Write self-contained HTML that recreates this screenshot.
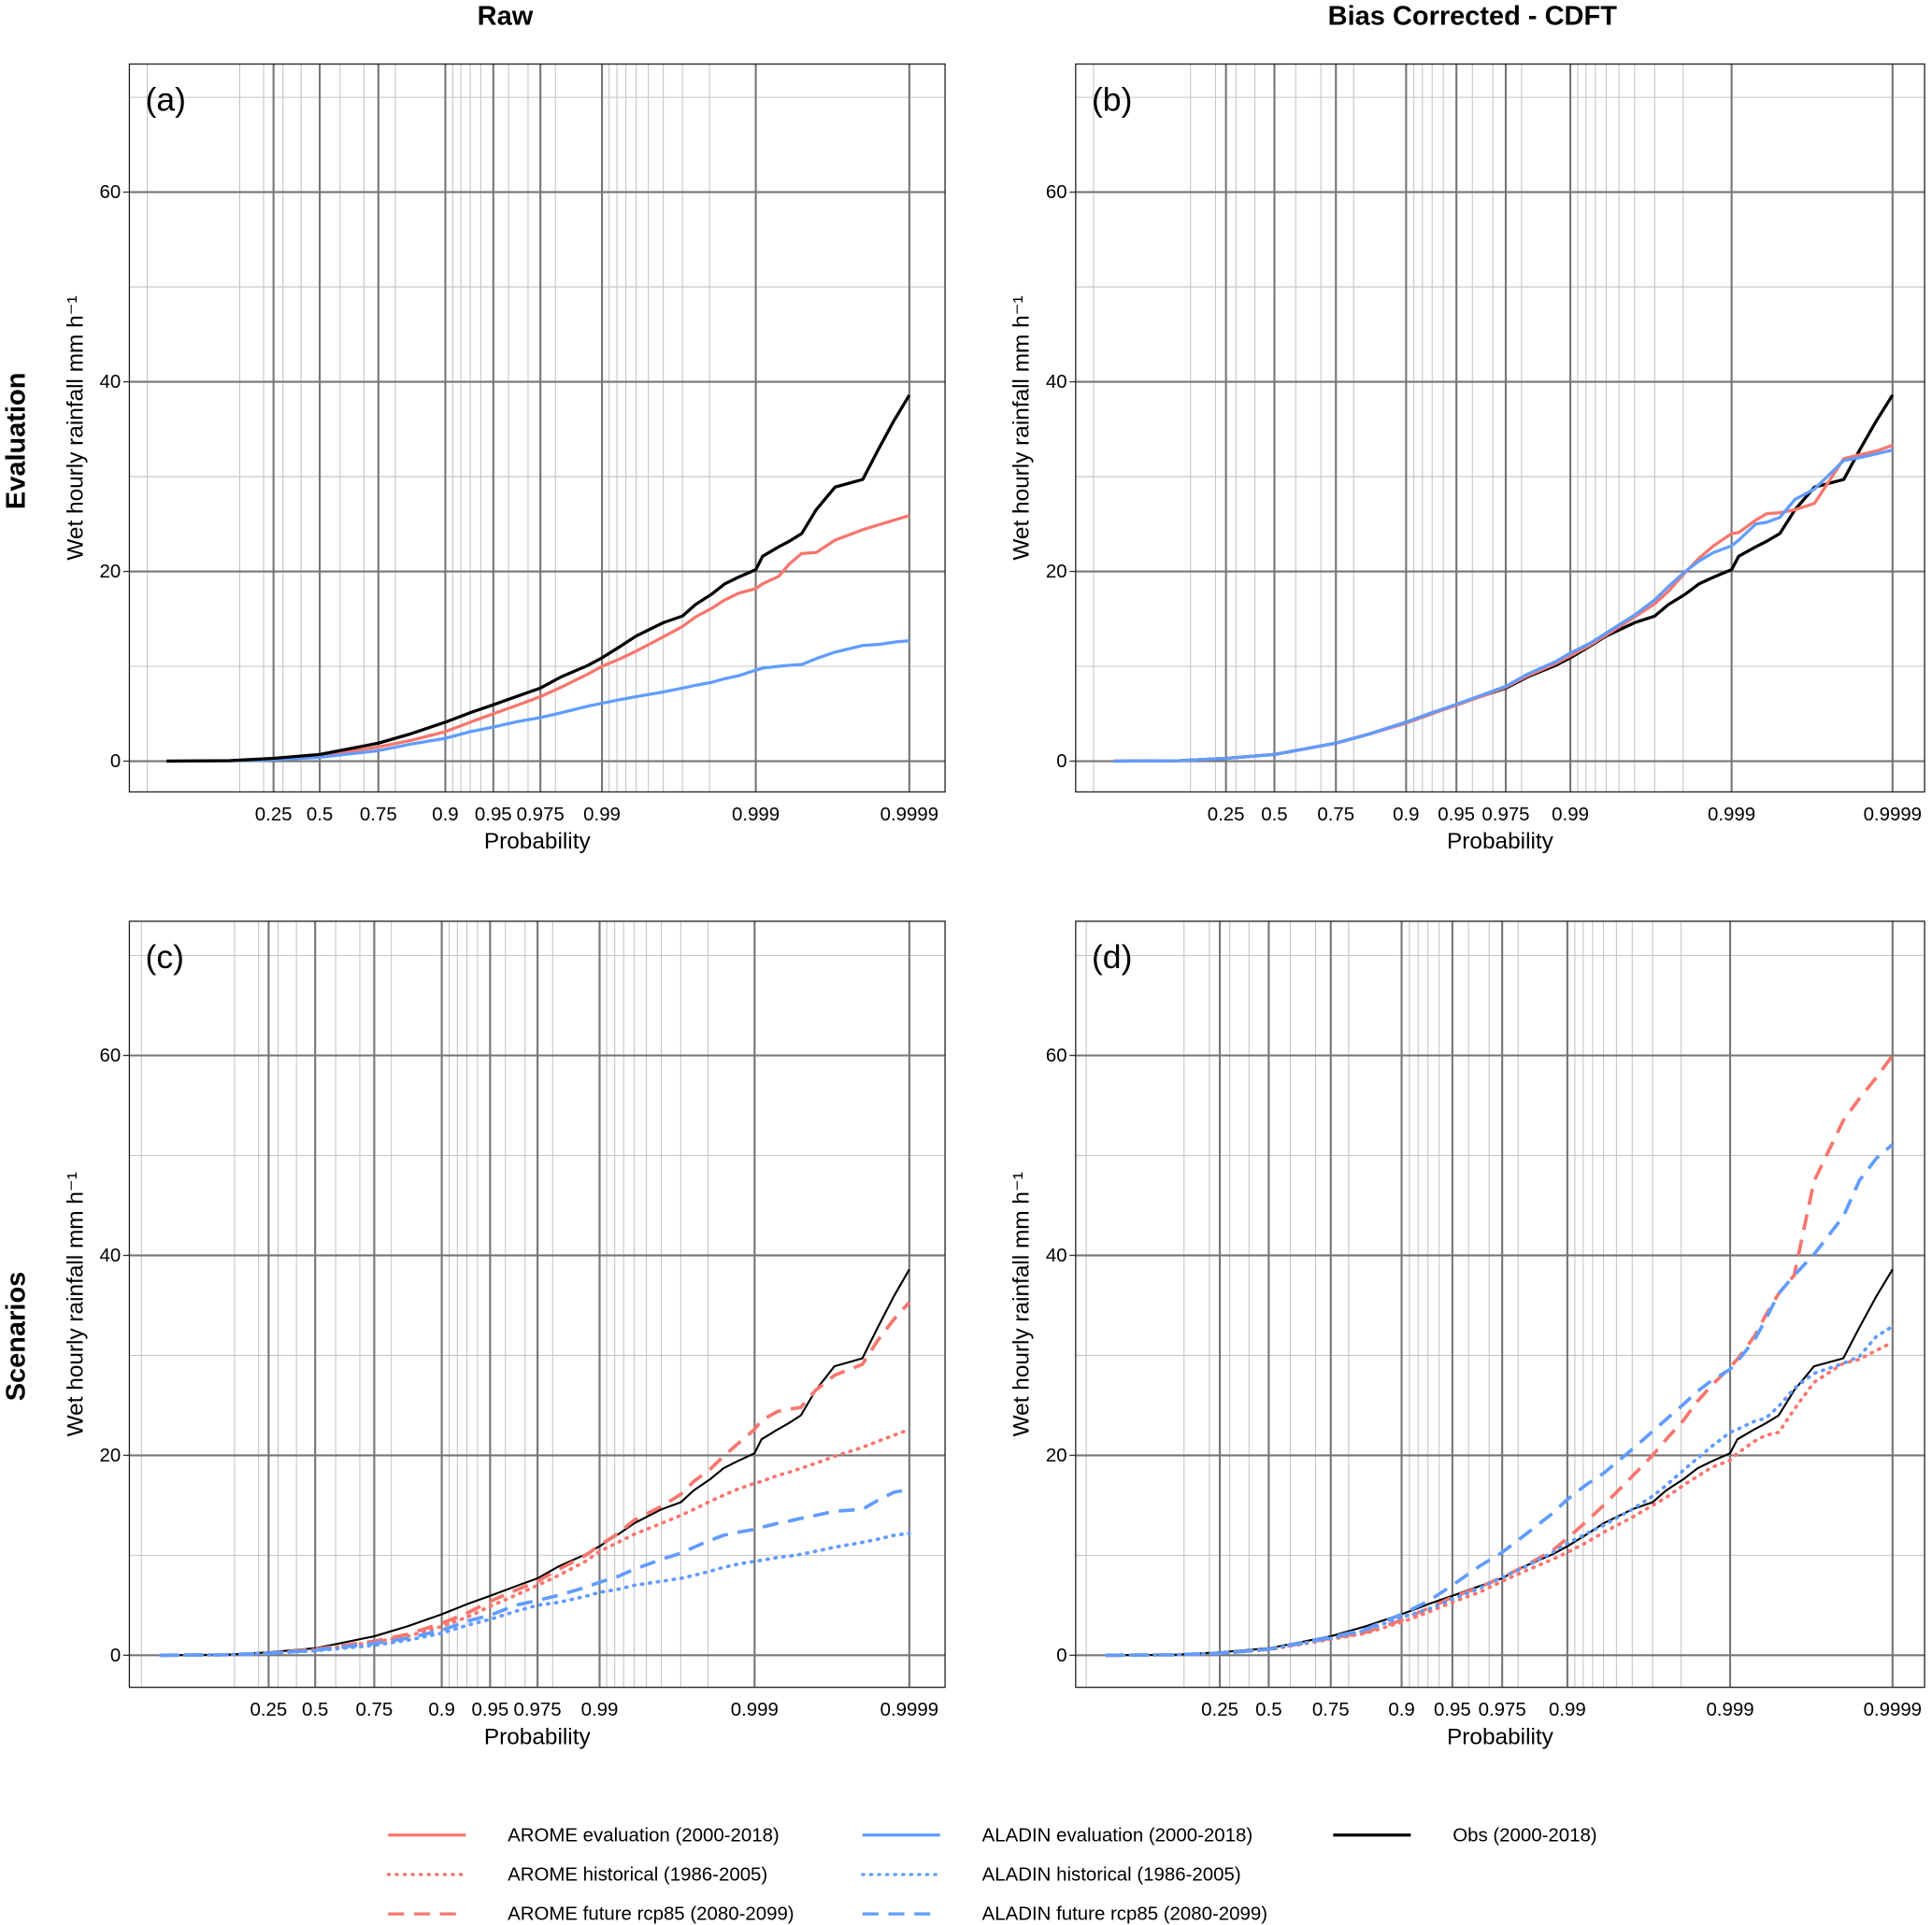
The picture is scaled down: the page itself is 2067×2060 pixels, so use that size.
<!DOCTYPE html>
<html><head><meta charset="utf-8"><style>html,body{margin:0;padding:0;background:#fff}svg{display:block}text{font-family:"Liberation Sans",Arial,sans-serif}</style></head>
<body>
<svg id="fig" width="2067" height="2060" viewBox="0 0 1568 1563" preserveAspectRatio="none" xmlns="http://www.w3.org/2000/svg">
<text x="410" y="20" font-size="22" font-weight="bold" text-anchor="middle">Raw</text>
<text x="1195" y="20" font-size="22" font-weight="bold" text-anchor="middle">Bias Corrected - CDFT</text>
<text transform="translate(20,358) rotate(-90)" font-size="22" font-weight="bold" text-anchor="middle">Evaluation</text>
<text transform="translate(20,1085) rotate(-90)" font-size="22" font-weight="bold" text-anchor="middle">Scenarios</text>
<g id="panels"></g>
<g id="legend"></g>
</svg>
<script>
const probs = [0.001,0.07,0.25,0.5,0.75,0.839,0.9,0.93,0.95,0.9655,0.975,0.9817,0.9877,0.99,0.9924,0.994,0.996,0.997,0.99753,0.99806,0.99841,0.998705,0.999,0.999097,0.999291,0.999396,0.999498,0.999596,0.999695,0.999799,0.99984,0.999874,0.9999];
const obsVals = [0,0.05,0.3,0.7,1.9,2.9,4.1,5.1,5.95,6.9,7.7,8.9,10.1,10.9,12.1,13.2,14.6,15.3,16.5,17.6,18.7,19.4,20.2,21.6,22.6,23.2,24.0,26.5,28.9,29.7,32.8,35.9,38.6];
const aromeEvalRaw = [0,0.05,0.2,0.55,1.5,2.2,3.1,4.1,5.0,5.95,6.8,7.8,9.2,10.0,10.8,11.6,13.1,14.2,15.2,16.1,17.0,17.7,18.2,18.7,19.5,20.8,21.9,22.0,23.3,24.4,24.9,25.4,25.9];
const aladinEvalRaw = [0,0.05,0.15,0.4,1.1,1.8,2.4,3.1,3.6,4.2,4.6,5.1,5.8,6.1,6.5,6.8,7.3,7.7,8.0,8.3,8.7,9.0,9.6,9.8,10.0,10.1,10.2,10.8,11.5,12.2,12.3,12.55,12.7];
const aromeEvalBC = [0,0.05,0.3,0.7,1.9,2.9,4.0,5.0,5.9,6.9,7.8,9.0,10.3,11.1,12.2,13.3,15.2,16.6,17.9,19.9,21.4,22.7,24.0,24.1,25.4,26.1,26.2,26.5,27.2,31.9,32.3,32.7,33.3];
const aladinEvalBC = [0,0.05,0.3,0.7,1.9,2.9,4.1,5.1,6.0,7.0,7.9,9.2,10.5,11.4,12.4,13.5,15.4,17.0,18.4,20.0,21.1,22.0,22.7,23.3,25.0,25.2,25.7,27.6,28.7,31.7,32.0,32.4,32.8];
const aromeFutRaw = [0,0.05,0.2,0.6,1.4,2.1,3.2,4.2,5.4,6.5,7.4,8.6,10.0,11.0,12.2,13.5,14.9,16.1,17.4,18.6,19.9,21.1,22.6,23.5,24.4,24.6,24.8,26.5,28.0,29.1,31.5,33.6,35.3];
const aromeHistRaw = [0,0.05,0.2,0.55,1.3,1.9,2.9,3.8,4.9,6.0,7.0,8.0,9.4,10.4,11.3,12.1,13.2,14.0,14.6,15.4,16.0,16.6,17.2,17.4,18.0,18.3,18.7,19.2,19.9,20.8,21.4,22.0,22.6];
const aladinFutRaw = [0,0.05,0.2,0.5,1.2,1.7,2.5,3.4,4.0,5.0,5.5,6.0,6.8,7.3,7.9,8.6,9.6,10.2,10.8,11.5,12.0,12.3,12.6,12.8,13.2,13.4,13.7,14.0,14.4,14.6,15.5,16.3,16.6];
const aladinHistRaw = [0,0.05,0.2,0.45,1.0,1.5,2.2,3.0,3.6,4.4,5.0,5.3,5.9,6.3,6.6,7.0,7.4,7.7,8.0,8.4,8.8,9.1,9.4,9.5,9.8,9.9,10.1,10.4,10.8,11.3,11.6,12.0,12.2];
const aromeFutBC = [0,0.05,0.2,0.6,1.7,2.3,3.5,4.7,5.8,6.8,7.8,8.9,10.5,11.7,13.4,15.0,17.9,20.0,21.6,23.5,25.4,27.0,28.8,29.6,31.9,34.0,36.2,38.0,47.4,53.5,55.7,57.8,60.0];
const aladinFutBC = [0,0.05,0.2,0.6,1.8,2.6,4.1,5.4,7.0,8.9,10.3,12.0,14.2,15.6,17.1,18.2,20.6,22.4,23.6,25.1,26.4,27.5,28.6,29.4,31.5,33.6,36.2,38.0,40.1,43.9,47.5,49.7,51.1];
const aromeHistBC = [0,0.05,0.2,0.55,1.6,2.2,3.3,4.3,5.3,6.3,7.4,8.4,9.6,10.3,11.3,12.3,13.8,15.0,15.8,17.0,17.9,18.8,19.5,20.2,21.4,22.0,22.3,24.6,27.3,29.2,29.6,30.5,31.3];
const aladinHistBC = [0,0.05,0.2,0.6,1.7,2.5,3.8,4.6,5.6,6.7,7.8,8.8,10.3,11.2,12.2,13.0,14.6,15.9,17.0,18.5,19.7,20.9,22.3,22.6,23.4,23.7,24.9,26.7,28.2,29.2,29.9,31.9,32.9];
const xTickLabels = ["0.25","0.5","0.75","0.9","0.95","0.975","0.99","0.999","0.9999"];
const xTickProbs = [0.25,0.5,0.75,0.9,0.95,0.975,0.99,0.999,0.9999];
const xMinorProbs = [0.0001,0.1,0.2,0.3,0.4,0.6,0.7,0.8,0.91,0.92,0.93,0.94,0.96,0.97,0.98,0.991,0.992,0.993,0.994,0.995,0.996,0.997,0.998];
const yTicks = [0,20,40,60];
const yMinor = [10,30,50,70];

const RED="#F8766D", BLUE="#619CFF", BLACK="#000";
const DOT="1 5.5", DASH="13 8";
const NS="http://www.w3.org/2000/svg";
function mk(tag, attrs, parent){const e=document.createElementNS(NS,tag);for(const k in attrs)e.setAttribute(k,attrs[k]);if(parent)parent.appendChild(e);return e;}
function gum(p){return -Math.log(-Math.log(p));}

const panels = [
 {id:"a",label:"(a)",bx0:105,bx1:767,by0:52,by1:643,px25:222,px9999:738,yz:618,y60:156,
  series:[{name:"arome-evaluation",v:aromeEvalRaw,c:RED,d:"",w:2.5},{name:"aladin-evaluation",v:aladinEvalRaw,c:BLUE,d:"",w:2.5},{name:"obs",v:obsVals,c:BLACK,d:"",w:2.5}]},
 {id:"b",label:"(b)",bx0:873,bx1:1562,by0:52,by1:643,px25:995,px9999:1536,yz:618,y60:156,
  series:[{name:"obs",v:obsVals,c:BLACK,d:"",w:2.5},{name:"arome-evaluation",v:aromeEvalBC,c:RED,d:"",w:2.5},{name:"aladin-evaluation",v:aladinEvalBC,c:BLUE,d:"",w:2.5}]},
 {id:"c",label:"(c)",bx0:105,bx1:767,by0:748,by1:1370,px25:218,px9999:738,yz:1344,y60:857,
  series:[{name:"obs",v:obsVals,c:BLACK,d:"",w:1.6},{name:"arome-historical",v:aromeHistRaw,c:RED,d:DOT,w:2.8},{name:"arome-future",v:aromeFutRaw,c:RED,d:DASH,w:2.8},{name:"aladin-historical",v:aladinHistRaw,c:BLUE,d:DOT,w:2.8},{name:"aladin-future",v:aladinFutRaw,c:BLUE,d:DASH,w:2.8}]},
 {id:"d",label:"(d)",bx0:873,bx1:1562,by0:748,by1:1370,px25:990,px9999:1536,yz:1344,y60:857,
  series:[{name:"obs",v:obsVals,c:BLACK,d:"",w:1.6},{name:"arome-historical",v:aromeHistBC,c:RED,d:DOT,w:2.8},{name:"arome-future",v:aromeFutBC,c:RED,d:DASH,w:2.8},{name:"aladin-historical",v:aladinHistBC,c:BLUE,d:DOT,w:2.8},{name:"aladin-future",v:aladinFutBC,c:BLUE,d:DASH,w:2.8}]}
];

const root=document.getElementById("panels");
panels.forEach(P=>{
  const g=mk("g",{},root);
  
  
  const g25=gum(0.25), g99=gum(0.9999);
  const sx=p=>P.px25+(gum(p)-g25)*(P.px9999-P.px25)/(g99-g25);
  const sy=v=>P.yz-v*(P.yz-P.y60)/60;
  mk("rect",{x:P.bx0,y:P.by0,width:P.bx1-P.bx0,height:P.by1-P.by0,fill:"#fff"},g);
  xMinorProbs.forEach(p=>{const l=mk("line",{x1:sx(p),x2:sx(p),y1:P.by0,y2:P.by1,stroke:"#c4c4c4","stroke-width":0.8},g);
    });
  yMinor.forEach(v=>{const l=mk("line",{x1:P.bx0,x2:P.bx1,y1:sy(v),y2:sy(v),stroke:"#c4c4c4","stroke-width":0.8},g);
    });
  xTickProbs.forEach((p,i)=>{
    const l=mk("line",{x1:sx(p),x2:sx(p),y1:P.by0,y2:P.by1,stroke:"#767676","stroke-width":1.6},g);
    
    const t=mk("text",{x:sx(p),y:P.by1+23,"font-size":15.5,"text-anchor":"middle"},g);t.textContent=xTickLabels[i];
    
  });
  yTicks.forEach(v=>{
    const l=mk("line",{x1:P.bx0,x2:P.bx1,y1:sy(v),y2:sy(v),stroke:"#767676","stroke-width":1.6},g);
    
    mk("line",{x1:P.bx0-5,x2:P.bx0,y1:sy(v),y2:sy(v),stroke:"#333","stroke-width":1},g);
    const t=mk("text",{x:P.bx0-7,y:sy(v)+5,"font-size":15.5,"text-anchor":"end"},g);t.textContent=String(v);
    
  });
  const cp=mk("clipPath",{id:"clip"+P.id},g);mk("rect",{x:P.bx0,y:P.by0,width:P.bx1-P.bx0,height:P.by1-P.by0},cp);
  P.series.forEach(s=>{
    const n=Math.min(probs.length,s.v.length);let d="";
    for(let i=0;i<n;i++){d+=(i?"L":"M")+sx(probs[i]).toFixed(1)+","+sy(s.v[i]).toFixed(1);}
    const path=mk("path",{d:d,fill:"none",stroke:s.c,"stroke-width":s.w,"stroke-linejoin":"round","stroke-linecap":s.d===DOT?"round":"butt","clip-path":"url(#clip"+P.id+")"},g);
    if(s.d)path.setAttribute("stroke-dasharray",s.d);
    
    
  });
  const box=mk("rect",{x:P.bx0,y:P.by0,width:P.bx1-P.bx0,height:P.by1-P.by0,fill:"none",stroke:"#222","stroke-width":1},g);
  
  const lab=mk("text",{x:P.bx0+13,y:P.by0+38,"font-size":27},g);lab.textContent=P.label;
  
  const xt=mk("text",{x:(P.bx0+P.bx1)/2,y:P.by1+46,"font-size":18.5,"text-anchor":"middle"},g);xt.textContent="Probability";
  
  const yc=(P.by0+P.by1)/2;
  const yt=mk("text",{transform:"translate("+(P.bx0-38)+","+yc+") rotate(-90)","font-size":18.5,"text-anchor":"middle"},g);
  yt.textContent="Wet hourly rainfall mm h\u207B\u00B9";
  
});

const legendItems=[
 {x:315,y:1490,c:RED,d:"",t:"AROME evaluation (2000-2018)"},
 {x:315,y:1522,c:RED,d:DOT,t:"AROME historical (1986-2005)"},
 {x:315,y:1554,c:RED,d:DASH,t:"AROME future rcp85 (2080-2099)"},
 {x:700,y:1490,c:BLUE,d:"",t:"ALADIN evaluation (2000-2018)"},
 {x:700,y:1522,c:BLUE,d:DOT,t:"ALADIN historical (1986-2005)"},
 {x:700,y:1554,c:BLUE,d:DASH,t:"ALADIN future rcp85 (2080-2099)"},
 {x:1082,y:1490,c:BLACK,d:"",t:"Obs (2000-2018)"}
];
const lg=document.getElementById("legend");
legendItems.forEach(it=>{
  const g=mk("g",{},lg);
  
  
  const l=mk("line",{x1:it.x,x2:it.x+63,y1:it.y,y2:it.y,stroke:it.c,"stroke-width":2.5,"stroke-linecap":it.d===DOT?"round":"butt"},g);
  if(it.d)l.setAttribute("stroke-dasharray",it.d);
  const t=mk("text",{x:it.x+97,y:it.y+5,"font-size":15.5},g);t.textContent=it.t;
});
</script>
</body></html>
